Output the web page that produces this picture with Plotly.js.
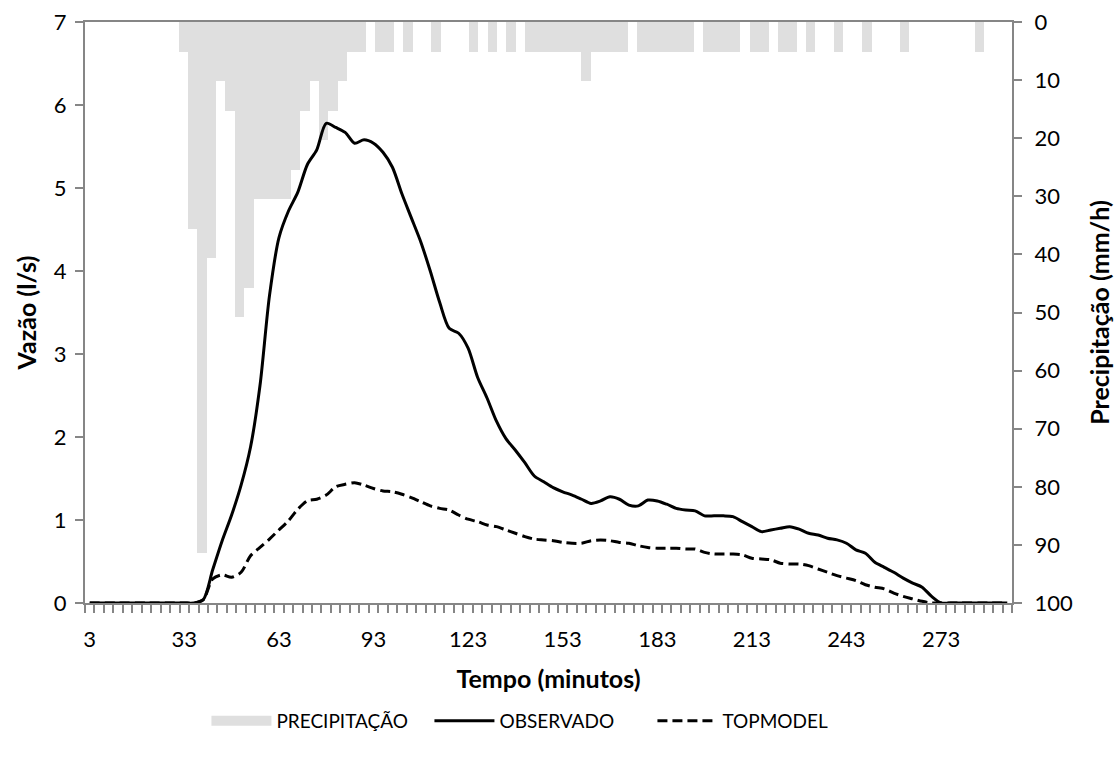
<!DOCTYPE html>
<html>
<head>
<meta charset="utf-8">
<script src="https://cdn.plot.ly/plotly-3.0.1.min.js"></script>
<style>html,body{margin:0;padding:0;background:#fff;}#chart{width:1118px;height:764px;}</style>
</head>
<body>
<div id="chart"></div>
<script>
// Precipitation (mm/h), secondary category axis: 0,3,...,294 minutes (99 categories)
var precipTime = [];
for (var i = 0; i < 99; i++) precipTime.push(i * 3);
var precipitacao = [
  0,0,0,0,0,0,0,0,0,0,
  5.08,35.56,91.44,40.64,10.16,15.24,50.8,45.72,30.48,30.48,
  30.48,30.48,25.4,15.24,10.16,20.32,15.24,10.16,5.08,5.08,
  0,5.08,5.08,0,5.08,0,0,5.08,0,0,
  0,5.08,0,5.08,0,5.08,0,5.08,5.08,5.08,
  5.08,5.08,5.08,10.16,5.08,5.08,5.08,5.08,0,5.08,
  5.08,5.08,5.08,5.08,5.08,0,5.08,5.08,5.08,5.08,
  0,5.08,5.08,0,5.08,5.08,0,5.08,0,0,
  5.08,0,0,5.08,0,0,0,5.08,0,0,
  0,0,0,0,0,5.08,0,0,0
];

// Flow (l/s), primary category axis: 3,6,...,294 minutes (98 categories)
var tempo = [];
for (var k = 0; k < 98; k++) tempo.push(3 + 3 * k);
var observado = [
  0,0,0,0,0,0,0,0,0,0,0,0,
  0.04,0.40,0.75,1.06,1.42,1.88,2.62,3.70,4.40,4.72,
  4.95,5.28,5.46,5.78,5.73,5.67,5.54,5.58,5.54,5.43,
  5.25,4.93,4.64,4.35,4.00,3.62,3.31,3.25,3.07,2.72,
  2.47,2.19,1.98,1.84,1.69,1.53,1.46,1.39,1.34,1.30,
  1.25,1.20,1.23,1.28,1.25,1.18,1.17,1.24,1.23,1.19,
  1.14,1.12,1.11,1.05,1.05,1.05,1.04,0.98,0.92,0.86,
  0.88,0.90,0.92,0.89,0.84,0.82,0.78,0.76,0.72,0.64,
  0.60,0.49,0.43,0.37,0.30,0.24,0.19,0.08,
  0,0,0,0,0,0,0,0
];
var topmodel = [
  0,0,0,0,0,0,0,0,0,0,0,0,
  0.04,0.29,0.34,0.31,0.37,0.57,0.67,0.77,0.88,0.99,
  1.13,1.23,1.25,1.30,1.40,1.43,1.45,1.42,1.38,1.35,
  1.34,1.31,1.27,1.22,1.17,1.14,1.12,1.06,1.01,0.98,
  0.94,0.92,0.88,0.84,0.80,0.77,0.76,0.75,0.73,0.72,
  0.72,0.75,0.76,0.75,0.73,0.72,0.69,0.67,0.66,0.66,
  0.66,0.65,0.65,0.61,0.59,0.59,0.59,0.58,0.54,0.53,
  0.52,0.48,0.47,0.47,0.45,0.41,0.37,0.33,0.30,0.27,
  0.22,0.19,0.17,0.12,0.08,0.05,0.02,
  0,0,0,0,0,0,0,0,0
];

var tickVals = [3,33,63,93,123,153,183,213,243,273];
var tickText = tickVals.map(String);

var FONT = 'Lato, "Open Sans", sans-serif';
var AX = '#868686';
var BARCOL = '#dfdfdf';

var traces = [
  {
    type: 'bar', name: 'PRECIPITAÇÃO', x: precipTime, y: precipitacao,
    xaxis: 'x', yaxis: 'y', width: 3, showlegend: false,
    marker: {color: BARCOL, line: {width: 0}}
  },
  {
    // legend-only entry giving the wide grey swatch of the precipitation series
    type: 'scatter', mode: 'lines', name: 'PRECIPITAÇÃO', x: [null], y: [null],
    xaxis: 'x', yaxis: 'y', line: {color: BARCOL, width: 12}
  },
  {
    type: 'scatter', mode: 'lines', name: 'OBSERVADO', x: tempo, y: observado,
    xaxis: 'x2', yaxis: 'y2',
    line: {color: '#000000', width: 3, shape: 'spline', smoothing: 0.8}
  },
  {
    type: 'scatter', mode: 'lines', name: 'TOPMODEL', x: tempo, y: topmodel,
    xaxis: 'x2', yaxis: 'y2',
    line: {color: '#000000', width: 3, dash: '10px,5px', shape: 'spline', smoothing: 0.8}
  }
];

var layout = {
  width: 1118, height: 764,
  margin: {l: 85, r: 106, t: 22, b: 161, pad: 0},
  paper_bgcolor: '#ffffff', plot_bgcolor: '#ffffff',
  font: {family: FONT, size: 22, color: '#000000'},
  bargap: 0,
  showlegend: true,
  legend: {
    orientation: 'h', x: 0.131, xanchor: 'left', y: -0.203, yanchor: 'middle',
    font: {family: FONT, size: 19, color: '#000'},
    traceorder: 'normal', itemwidth: 60, entrywidth: 148
  },
  xaxis: {
    anchor: 'y', side: 'top', range: [-1.5, 295.5],
    showline: true, linecolor: AX, linewidth: 2,
    showticklabels: false, ticks: '', showgrid: false, zeroline: false
  },
  yaxis: {
    anchor: 'x', side: 'right', range: [100, 0], dtick: 10, tick0: 0,
    showline: true, linecolor: AX, linewidth: 2,
    ticks: 'outside', ticklen: 8, tickcolor: AX, tickwidth: 2,
    ticklabelstandoff: 8,
    showgrid: false, zeroline: false,
    tickfont: {family: FONT, size: 22},
    title: {text: '<b>Precipitação (mm/h)</b>', font: {family: FONT, size: 25}, standoff: 20}
  },
  xaxis2: {
    overlaying: 'x', anchor: 'y2', side: 'bottom', range: [1.5, 295.5],
    tickmode: 'array', tickvals: tickVals, ticktext: tickText,
    ticks: 'outside', ticklen: 16, tickcolor: 'rgba(0,0,0,0)',
    minor: {ticks: 'outside', tick0: 1.5, dtick: 3, ticklen: 8, tickcolor: AX, tickwidth: 2, showgrid: false},
    showline: true, linecolor: AX, linewidth: 2,
    showgrid: false, zeroline: false,
    tickfont: {family: FONT, size: 22},
    title: {text: '<b>Tempo (minutos)</b>', font: {family: FONT, size: 25}, standoff: 19}
  },
  yaxis2: {
    overlaying: 'y', anchor: 'x2', side: 'left', range: [0, 7], dtick: 1, tick0: 0,
    showline: true, linecolor: AX, linewidth: 2,
    ticks: 'outside', ticklen: 8, tickcolor: AX, tickwidth: 2,
    ticklabelstandoff: 4,
    showgrid: false, zeroline: false,
    tickfont: {family: FONT, size: 22},
    title: {text: '<b>Vazão (l/s)</b>', font: {family: FONT, size: 25}, standoff: 10}
  }
};

Plotly.newPlot('chart', traces, layout, {displayModeBar: false, staticPlot: true});
</script>
</body>
</html>
